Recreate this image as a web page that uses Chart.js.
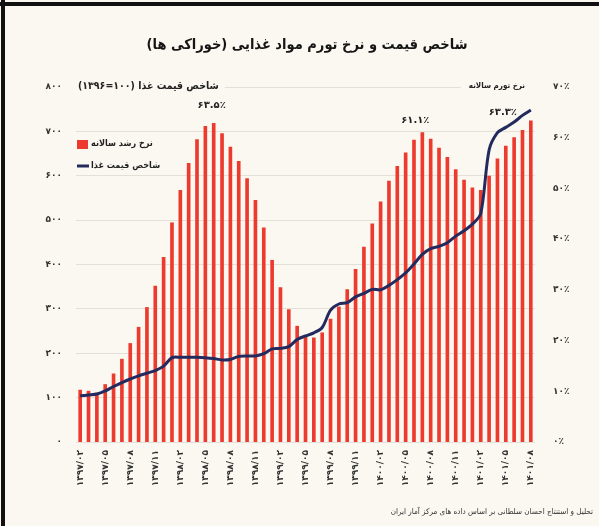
<!DOCTYPE html>
<html>
<head>
<meta charset="utf-8">
<script src="https://cdn.jsdelivr.net/npm/chart.js@4/dist/chart.umd.min.js"></script>
<style>
  html, body { margin: 0; padding: 0; background: #fbf8f1; }
  #wrap { position: relative; width: 599px; height: 526px; }
</style>
</head>
<body>
<div id="wrap"><canvas id="grafico"></canvas></div>
<script>
// DATA
var months = [
  '1397/02','1397/03','1397/04','1397/05','1397/06','1397/07','1397/08','1397/09','1397/10','1397/11','1397/12',
  '1398/01','1398/02','1398/03','1398/04','1398/05','1398/06','1398/07','1398/08','1398/09','1398/10','1398/11','1398/12',
  '1399/01','1399/02','1399/03','1399/04','1399/05','1399/06','1399/07','1399/08','1399/09','1399/10','1399/11','1399/12',
  '1400/01','1400/02','1400/03','1400/04','1400/05','1400/06','1400/07','1400/08','1400/09','1400/10','1400/11','1400/12',
  '1401/01','1401/02','1401/03','1401/04','1401/05','1401/06','1401/07','1401/08'
];

// نرخ تورم سالانه (%)
var inflation = [
  10.3, 10.1, 9.7, 11.4, 13.5, 16.4, 19.5, 22.7, 26.6, 30.8, 36.5, 43.3, 49.7, 55.0, 59.7, 62.3, 62.9, 60.9, 58.2,
  55.4, 52.0, 47.7, 42.3, 35.9, 30.5, 26.2, 22.9, 21.1, 20.6, 21.6, 24.3, 26.7, 30.1, 34.1, 38.5, 43.1, 47.4, 51.5,
  54.4, 57.1, 59.6, 61.1, 59.8, 58.0, 56.2, 53.8, 51.7, 50.2, 49.7, 52.5, 55.9, 58.4, 60.1, 61.5, 63.4
];

// شاخص قیمت غذا (1396=100)
var foodIndex = [
  104, 106, 108, 115, 125, 134, 142, 149, 155, 161, 171, 190, 191, 191, 191, 190, 188, 185, 186,
  193, 194, 194, 199, 210, 211, 215, 231, 239, 246, 258, 297, 311, 314, 327, 335, 344, 343, 353,
  366, 381, 401, 423, 436, 441, 449, 464, 476, 491, 515, 658, 697, 709, 721, 736, 748
];

var peakLabels = [
  { i: 16, text: '۶۳.۵٪', dx: -2, dy: -18 },
  { i: 41, text: '۶۱.۱٪', dx: -7, dy: -12 },
  { i: 54, text: '۶۳.۳٪', dx: -28, dy: -8 }
];

var FONT = '"DejaVu Sans", sans-serif';
var FONT_C = '"DejaVu Sans Condensed", "DejaVu Sans", sans-serif';
var BG = '#fbf8f1';

function toFa(s) {
  return String(s).replace(/[0-9]/g, function (d) { return '۰۱۲۳۴۵۶۷۸۹'[d]; });
}

// نوشته ها، راهنما، قاب
var decor = {
  id: 'decor',
  beforeDraw: function (chart) {
    var c = chart.ctx;
    c.save();
    c.fillStyle = BG;
    c.fillRect(0, 0, chart.width, chart.height);
    c.restore();
  },
  afterDraw: function (chart) {
    var c = chart.ctx, ca = chart.chartArea;
    var x = chart.scales.x, y1 = chart.scales.y1;
    c.save();
    c.direction = 'rtl';
    c.textBaseline = 'middle';

    // عنوان
    c.fillStyle = '#151515';
    c.font = 'bold 14.5px ' + FONT_C;
    c.textAlign = 'center';
    c.fillText('شاخص قیمت و نرخ تورم مواد غذایی (خوراکی ها)', 307, 45);

    // عنوان محورها
    c.font = 'bold 10.5px ' + FONT_C;
    var t1 = 'شاخص قیمت غذا (۱۰۰=۱۳۹۶)';
    var w1 = c.measureText(t1).width;
    c.fillStyle = BG;
    c.fillRect(ca.left, ca.top - 7, w1 + 8, 13);
    c.fillStyle = '#222';
    c.textAlign = 'left';
    c.fillText(t1, ca.left + 2, ca.top - 1);

    c.font = 'bold 8px ' + FONT_C;
    var t2 = 'نرخ تورم سالانه';
    var w2 = c.measureText(t2).width;
    c.fillStyle = BG;
    c.fillRect(ca.right - w2 - 18, ca.top - 6, w2 + 18, 12);
    c.fillStyle = '#222';
    c.textAlign = 'right';
    c.fillText(t2, ca.right - 10, ca.top - 1);

    // راهنما
    var ds = chart.data.datasets;
    c.font = 'bold 9px ' + FONT_C;
    c.textAlign = 'left';
    c.fillStyle = ds[0].backgroundColor;
    c.fillRect(ca.left + 1, 140, 11, 9);
    c.fillStyle = '#222';
    c.fillText(ds[0].label, ca.left + 15, 144);
    c.strokeStyle = ds[1].borderColor;
    c.lineWidth = 3;
    c.beginPath();
    c.moveTo(ca.left + 1, 166);
    c.lineTo(ca.left + 13, 166);
    c.stroke();
    c.fillText(ds[1].label, ca.left + 15, 166);

    // برچسب اوج ها
    c.direction = 'ltr';
    c.textAlign = 'center';
    c.font = 'bold 10px ' + FONT;
    c.fillStyle = '#222';
    peakLabels.forEach(function (p) {
      c.fillText(p.text, x.getPixelForValue(p.i) + p.dx, y1.getPixelForValue(inflation[p.i]) + p.dy);
    });

    // منبع
    c.direction = 'rtl';
    c.textAlign = 'right';
    c.font = '8px ' + FONT_C;
    c.fillStyle = '#333';
    c.fillText('تحلیل و استنتاج احسان سلطانی بر اساس داده های مرکز آمار ایران', 593, 512);

    // قاب
    c.fillStyle = '#111';
    c.fillRect(0, 2, chart.width, 4);
    c.fillRect(1, 0, 4, chart.height);
    c.restore();
  }
};

new Chart(document.getElementById('grafico'), {
  data: {
    labels: months,
    datasets: [{
      type: 'bar',
      label: 'نرخ رشد سالانه',
      data: inflation,
      yAxisID: 'y1',
      backgroundColor: '#ec3a2e',
      barPercentage: 0.46,
      categoryPercentage: 0.95,
      order: 2
    }, {
      type: 'line',
      label: 'شاخص قیمت غذا',
      data: foodIndex,
      yAxisID: 'y',
      borderColor: '#222a5e',
      backgroundColor: '#222a5e',
      borderWidth: 3,
      pointRadius: 0,
      tension: 0.3,
      order: 1
    }]
  },
  options: {
    responsive: true,
    maintainAspectRatio: false,
    animation: false,
    layout: { padding: { top: 87 } },
    plugins: { legend: { display: false }, tooltip: { enabled: false } },
    scales: {
      x: {
        grid: { display: false, drawTicks: false },
        border: { display: false },
        ticks: {
          autoSkip: false, minRotation: 90, maxRotation: 90, padding: 8,
          color: '#333', font: { family: FONT, size: 9, weight: 'bold' },
          callback: function (v, i) { return i % 3 === 0 ? toFa(months[i]) : ''; }
        },
        afterFit: function (s) { s.height = 84; }
      },
      y: {
        position: 'left', min: 0, max: 800,
        grid: { color: '#e4e0d7', drawTicks: false },
        border: { display: false },
        ticks: {
          stepSize: 100, padding: 14, color: '#333',
          font: { family: FONT, size: 9, weight: 'bold' },
          callback: function (v) { return toFa(v); }
        },
        afterFit: function (s) { s.width = 76; }
      },
      y1: {
        position: 'right', min: 0, max: 70,
        grid: { display: false, drawTicks: false },
        border: { display: false },
        ticks: {
          stepSize: 10, padding: 18, color: '#333',
          font: { family: FONT, size: 9, weight: 'bold' },
          callback: function (v) { return toFa(v) + '٪'; }
        },
        afterFit: function (s) { s.width = 64; }
      }
    }
  },
  plugins: [decor]
});
</script>
</body>
</html>
